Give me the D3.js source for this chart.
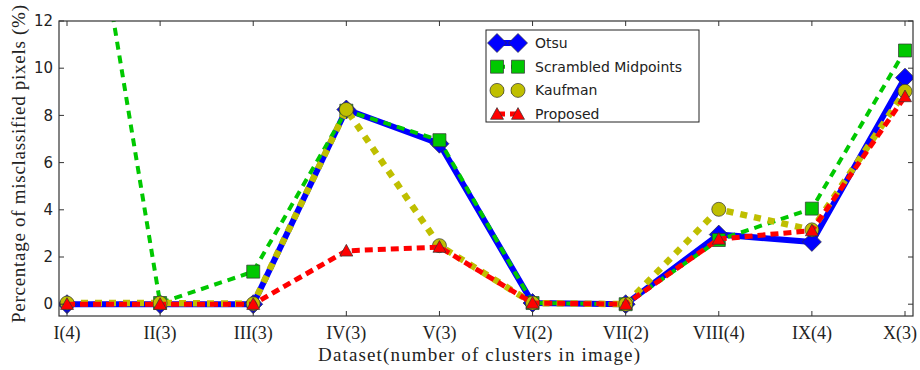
<!DOCTYPE html>
<html>
<head>
<meta charset="utf-8">
<script src="https://cdn.jsdelivr.net/npm/d3@7/dist/d3.min.js"></script>
<style>
  body { margin: 0; background: #fff; }
  svg { display: block; }
</style>
</head>
<body>
<div id="chart"></div>
<script>
const categories = ['I(4)', 'II(3)', 'III(3)', 'IV(3)', 'V(3)', 'VI(2)', 'VII(2)', 'VIII(4)', 'IX(4)', 'X(3)'];
const otsu      = [0, 0, 0, 8.25, 6.8, 0.05, 0, 2.95, 2.64, 9.6];
const scrambled = [24, 0.05, 1.38, 8.2, 6.95, 0.05, 0, 2.72, 4.05, 10.75];
const kaufman   = [0.05, 0.05, 0.02, 8.25, 2.48, 0.05, 0, 4.02, 3.15, 9.02];
const proposed  = [0, 0, 0, 2.26, 2.42, 0.05, 0, 2.76, 3.12, 8.8];
const yTicks = [0, 2, 4, 6, 8, 10, 12];

const series = [
  { name: 'Otsu', values: otsu, color: '#0000ff', width: 6, dash: null, marker: 'diamond', size: 19 },
  { name: 'Scrambled Midpoints', values: scrambled, color: '#00c800', width: 4, dash: '8,6', marker: 'square', size: 13 },
  { name: 'Kaufman', values: kaufman, color: '#bfbf00', width: 6.5, dash: '7,7', marker: 'circle', size: 14 },
  { name: 'Proposed', values: proposed, color: '#ff0000', width: 5, dash: '8,5', marker: 'triangle', size: 13 }
];

const W = 920, H = 370;
const mLeft = 59, mRight = 913, mTop = 21, mBottom = 316;

const svg = d3.select('#chart').append('svg').attr('width', W).attr('height', H);

const x = d3.scalePoint().domain(categories).range([mLeft + 8, mRight - 8]);
const y = d3.scaleLinear().domain([-0.5, 12]).range([mBottom, mTop]);

svg.append('defs').append('clipPath').attr('id', 'plot')
  .append('rect').attr('x', mLeft).attr('y', mTop).attr('width', mRight - mLeft).attr('height', mBottom - mTop);

function markerPath(type, s) {
  const h = s / 2;
  if (type === 'diamond') return `M0,${-h}L${h},0L0,${h}L${-h},0Z`;
  if (type === 'square') return `M${-h},${-h}H${h}V${h}H${-h}Z`;
  if (type === 'triangle') return `M0,${-h}L${h},${h * 0.8}L${-h},${h * 0.8}Z`;
  return d3.symbol(d3.symbolCircle, Math.PI * h * h)();
}

const plot = svg.append('g').attr('clip-path', 'url(#plot)');
const line = d3.line().x((d, i) => x(categories[i])).y(d => y(d));

series.forEach(s => {
  plot.append('path')
    .attr('d', line(s.values))
    .attr('fill', 'none')
    .attr('stroke', s.color)
    .attr('stroke-width', s.width)
    .attr('stroke-dasharray', s.dash)
    .attr('stroke-linejoin', 'round');
  plot.append('g').selectAll('path')
    .data(s.values)
    .join('path')
    .attr('transform', (d, i) => `translate(${x(categories[i])},${y(d)})`)
    .attr('d', markerPath(s.marker, s.size))
    .attr('fill', s.color)
    .attr('stroke', '#333')
    .attr('stroke-opacity', 0.7)
    .attr('stroke-width', 1);
});

// frame
svg.append('rect').attr('x', mLeft).attr('y', mTop).attr('width', mRight - mLeft).attr('height', mBottom - mTop)
  .attr('fill', 'none').attr('stroke', '#333').attr('stroke-width', 1.2);

// ticks (inward, all sides)
const ticks = svg.append('g').attr('stroke', '#333').attr('stroke-width', 1);
categories.forEach(c => {
  ticks.append('line').attr('x1', x(c)).attr('x2', x(c)).attr('y1', mBottom).attr('y2', mBottom - 5);
  ticks.append('line').attr('x1', x(c)).attr('x2', x(c)).attr('y1', mTop).attr('y2', mTop + 5);
});
yTicks.forEach(t => {
  ticks.append('line').attr('x1', mLeft).attr('x2', mLeft + 5).attr('y1', y(t)).attr('y2', y(t));
  ticks.append('line').attr('x1', mRight).attr('x2', mRight - 5).attr('y1', y(t)).attr('y2', y(t));
});

svg.append('g').selectAll('text').data(yTicks).join('text')
  .attr('x', mLeft - 6).attr('y', d => y(d)).attr('dy', '0.35em')
  .attr('text-anchor', 'end')
  .style('font', '15px "DejaVu Sans", sans-serif').attr('fill', '#222')
  .text(d => d);

svg.append('g').selectAll('text').data(categories).join('text')
  .attr('x', d => x(d)).attr('y', 339)
  .attr('text-anchor', 'middle')
  .style('font', '18px "Liberation Serif", serif').attr('fill', '#222')
  .text(d => d)
  .each(function () {
    // keep the last label inside the page, as in the reference
    const w = this.getComputedTextLength();
    const cx = +this.getAttribute('x');
    if (cx + w / 2 > W - 3) this.setAttribute('x', W - 3 - w / 2);
  });

svg.append('text').attr('x', (mLeft + mRight) / 2 - 7).attr('y', 361)
  .attr('text-anchor', 'middle')
  .attr('textLength', 322).attr('lengthAdjust', 'spacing')
  .style('font', '19px "Liberation Serif", serif').attr('fill', '#222')
  .text('Dataset(number of clusters in image)');

svg.append('text').attr('transform', `translate(25,${164}) rotate(-90)`)
  .attr('text-anchor', 'middle')
  .attr('textLength', 318).attr('lengthAdjust', 'spacing')
  .style('font', '19px "Liberation Serif", serif').attr('fill', '#222')
  .text('Percentage of misclassified pixels (%)');

// legend
const lg = svg.append('g');
lg.append('rect').attr('x', 486).attr('y', 30).attr('width', 213).attr('height', 92)
  .attr('fill', '#fff').attr('stroke', '#222').attr('stroke-width', 1);
series.forEach((s, i) => {
  const cy = 43 + i * 23.7;
  lg.append('line').attr('x1', 497).attr('x2', 518).attr('y1', cy).attr('y2', cy)
    .attr('stroke', s.color).attr('stroke-width', s.width).attr('stroke-dasharray', s.dash);
  [497, 518].forEach(mx => {
    lg.append('path').attr('transform', `translate(${mx},${cy})`)
      .attr('d', markerPath(s.marker, s.size))
      .attr('fill', s.color).attr('stroke', '#333').attr('stroke-opacity', 0.7).attr('stroke-width', 1);
  });
  lg.append('text').attr('x', 535).attr('y', cy).attr('dy', '0.35em')
    .style('font', '14px "DejaVu Sans", sans-serif').attr('fill', '#222')
    .text(s.name);
});
</script>
</body>
</html>
